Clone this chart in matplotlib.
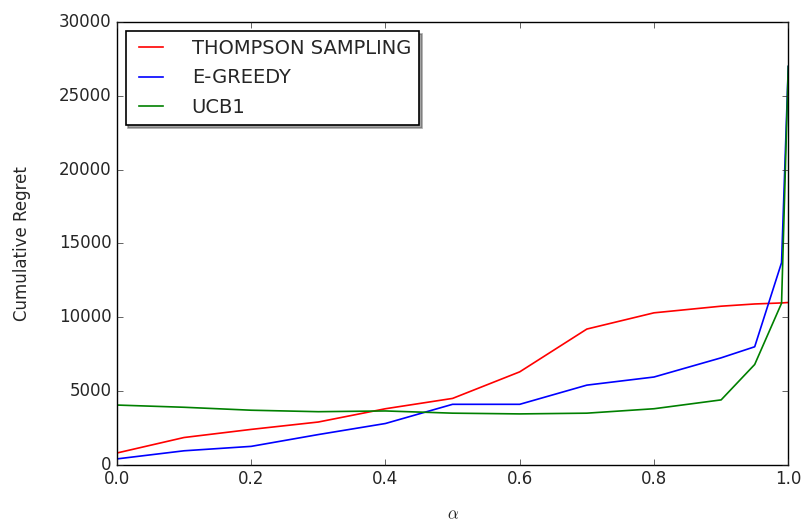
import matplotlib
matplotlib.use('Agg')
import matplotlib.pyplot as plt

plt.style.use('classic')

alpha = [0.0, 0.1, 0.2, 0.3, 0.4, 0.5, 0.6, 0.7, 0.8, 0.9, 0.95, 0.99, 1.0]
thompson = [800, 1850, 2400, 2900, 3800, 4500, 6300, 9200, 10300, 10750, 10900, 10970, 11000]
egreedy = [400, 950, 1250, 2050, 2800, 4100, 4100, 5400, 5950, 7250, 8000, 13700, 27000]
ucb1 = [4050, 3900, 3700, 3600, 3650, 3500, 3450, 3500, 3800, 4400, 6800, 10950, 27000]

txt = '#262626'
plt.rcParams['text.color'] = txt
plt.rcParams['xtick.color'] = txt
plt.rcParams['ytick.color'] = txt
plt.rcParams['axes.labelcolor'] = txt

fig = plt.figure(figsize=(8.06, 5.27), dpi=100, facecolor='white')
ax = fig.add_axes([0.145, 0.118, 0.833, 0.840])

ax.plot(alpha, thompson, 'r', lw=1.2, label='THOMPSON SAMPLING')
ax.plot(alpha, egreedy, 'b', lw=1.2, label='E-GREEDY')
ax.plot(alpha, ucb1, 'g', lw=1.2, label='UCB1')

ax.set_xlim(0, 1.0)
ax.set_ylim(0, 30000)
ax.set_xlabel(r'$\alpha$', labelpad=12)
ax.set_ylabel('Cumulative Regret', labelpad=20)
leg = ax.legend(loc='upper left', shadow=True, fontsize=14,
                borderaxespad=0.45, handlelength=1.8, handletextpad=1.2, labelspacing=0.55)
leg.get_frame().set_linewidth(1.2)

plt.savefig('out.png', dpi=100, facecolor='white')
